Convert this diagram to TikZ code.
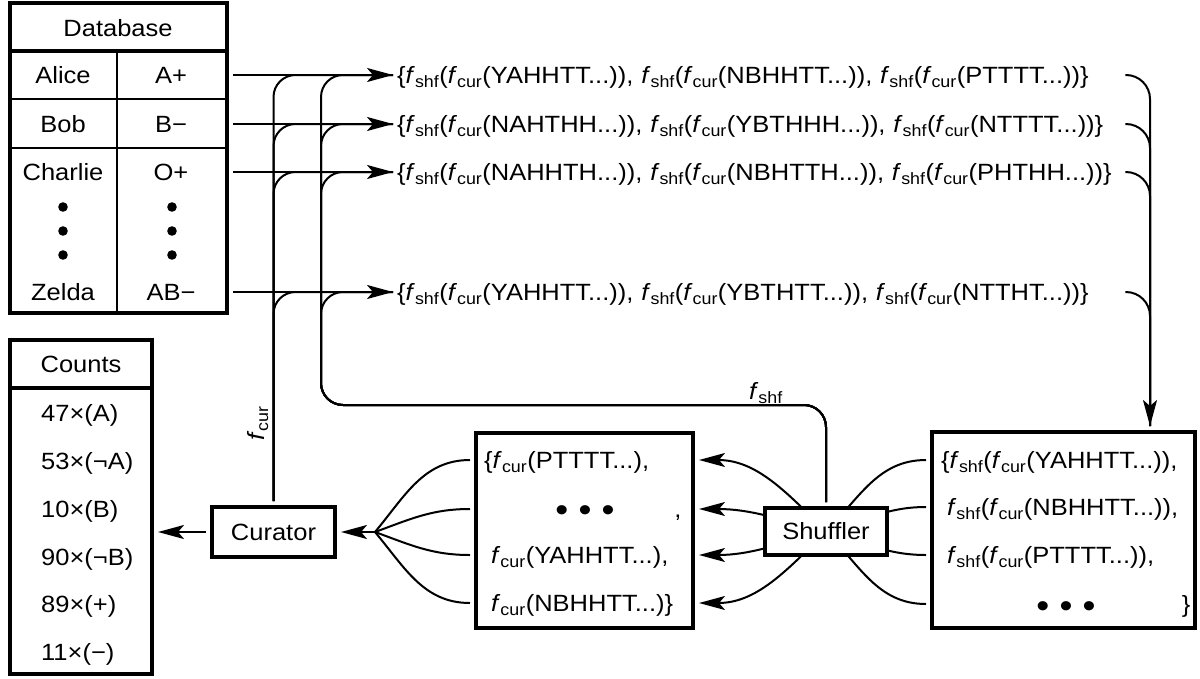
\documentclass[tikz,border=0pt]{standalone}
\usepackage{fontspec}
\setmainfont{Liberation Sans}[FakeStretch=1.085]
\usetikzlibrary{arrows.meta}
\newcommand{\fshf}{\textit{f}\textsubscript{shf}}
\newcommand{\fcur}{\textit{f}\textsubscript{cur}}
\tikzstyle{panel}=[draw=black, line width=4.5pt, inner sep=0pt, outer sep=6pt]
\tikzstyle{entry}=[inner sep=0pt, text height=20pt, text depth=3pt]
\tikzstyle{tuple}=[entry, anchor=west, inner xsep=4pt, text width=724pt, align=left]
\tikzstyle{bigdots}=[inner sep=0pt, font=\fontsize{34}{24}\selectfont]
\tikzstyle{wire}=[line width=2pt]
\tikzstyle{feed}=[wire, -{Stealth[length=26pt, width=14pt, inset=6pt]}]

\begin{document}
\begin{tikzpicture}[x=1pt, y=-1pt, font=\fontsize{23.5}{28}\selectfont]
	\useasboundingbox (0,0) rectangle (1200,678);
	\node[panel, minimum width=217pt, minimum height=310pt] (db) at (118.5,158){};
	\draw[line width=4.5pt] (10,51) -- (227,51);
	\draw[line width=1.3pt] (10,99) -- (227,99) (10,148) -- (227,148) (117,51) -- (117,313);
	\node[entry] (dbt) at (118,28){Database};
	\node[entry] (p1) at (63,75){Alice};
	\node[entry] (p2) at (63,124){Bob};
	\node[entry] (p3) at (63,172){Charlie};
	\node[entry] (p4) at (63,292){Zelda};
	\node[entry] (a1) at (171,75){A+};
	\node[entry] (a2) at (171,124){B−};
	\node[entry] (a3) at (171,172){O+};
	\node[entry] (a4) at (171,292){AB−};
	\fill (63,207) circle (4.8pt) (63,231) circle (4.8pt) (63,255) circle (4.8pt);
	\fill (172,207) circle (4.8pt) (172,231) circle (4.8pt) (172,255) circle (4.8pt);

	\node[tuple] (t1) at (393,75){\mbox{\{\fshf(\fcur(YAHHTT...)), \fshf(\fcur(NBHHTT...)), \fshf(\fcur(PTTTT...))\}}};
	\node[tuple] (t2) at (393,124){\mbox{\{\fshf(\fcur(NAHTHH...)), \fshf(\fcur(YBTHHH...)), \fshf(\fcur(NTTTT...))\}}};
	\node[tuple] (t3) at (393,172){\mbox{\{\fshf(\fcur(NAHHTH...)), \fshf(\fcur(NBHTTH...)), \fshf(\fcur(PHTHH...))\}}};
	\node[tuple] (t4) at (393,292){\mbox{\{\fshf(\fcur(YAHHTT...)), \fshf(\fcur(YBTHTT...)), \fshf(\fcur(NTTHT...))\}}};

	\node[panel, minimum width=142pt, minimum height=334pt] (cnt) at (81,507){};
	\draw[line width=4.5pt] (10,388) -- (152,388);
	\node[entry] (cntt) at (81,364){Counts};
	\node[entry, anchor=west] (c1) at (41,413){47×(A)};
	\node[entry, anchor=west] (c2) at (41,461){53×(¬A)};
	\node[entry, anchor=west] (c3) at (41,509){10×(B)};
	\node[entry, anchor=west] (c4) at (41,557){90×(¬B)};
	\node[entry, anchor=west] (c5) at (41,604){89×(+)};
	\node[entry, anchor=west] (c6) at (41,652){11×(−)};

	\node[panel, minimum width=123pt, minimum height=50pt] (cur) at (273.5,532){Curator};

	\node[panel, minimum width=217pt, minimum height=195pt] (mid) at (584.5,530.5){};
	\node[entry, anchor=west] (m1) at (484,460){\{\fcur(PTTTT...),};
	\node[bigdots] (m2) at (585,514){• • •};
	\node[entry] (m2c) at (678,509){,};
	\node[entry, anchor=west] (m3) at (491,555){\fcur(YAHHTT...),};
	\node[entry, anchor=west] (m4) at (491,603){\fcur(NBHHTT...)\}};

	\node[panel, minimum width=263pt, minimum height=196pt] (out) at (1063.5,530){};
	\node[entry, anchor=west] (r1) at (941,460){\{\fshf(\fcur(YAHHTT...)),};
	\node[entry, anchor=west] (r2) at (947,507){\fshf(\fcur(NBHHTT...)),};
	\node[entry, anchor=west] (r3) at (947,555){\fshf(\fcur(PTTTT...)),};
	\node[bigdots] (r4) at (1066,610){• • •};
	\node[entry] (r4c) at (1186,604){\}};

	\coordinate (shc) at (826,531.5);
	\draw[feed] (shc) to[out=135, in=0] (mid.east |- m1);
	\draw[feed] (shc) to[out=165, in=0] (mid.east |- m2c);
	\draw[feed] (shc) to[out=195, in=0] (mid.east |- m3);
	\draw[feed] (shc) to[out=225, in=0] (mid.east |- m4);
	\draw[wire] (shc) to[out=45, in=180] (out.west |- r1);
	\draw[wire] (shc) to[out=15, in=180] (out.west |- r2);
	\draw[wire] (shc) to[out=-15, in=180] (out.west |- r3);
	\draw[wire] (shc) to[out=-45, in=180] (out.west |- r4c);
	\node[panel, fill=white, minimum width=122pt, minimum height=47pt] (shf) at (shc){Shuffler};

	\coordinate (fan) at (375,532);
	\draw[feed] (fan) -- (cur.east);
	\draw[wire] (fan) to[out=50, in=180] (mid.west |- m1);
	\draw[wire] (fan) to[out=20, in=180] (mid.west |- m2c);
	\draw[wire] (fan) to[out=-20, in=180] (mid.west |- m3);
	\draw[wire] (fan) to[out=-50, in=180] (mid.west |- m4);
	\draw[feed] (cur.west) -- (cnt.east |- cur.west);

	\draw[feed] (db.east |- a1) -- (t1.west);
	\draw[feed] (db.east |- a2) -- (t2.west);
	\draw[feed] (db.east |- a3) -- (t3.west);
	\draw[feed] (db.east |- a4) -- (t4.west);

	\draw[wire, rounded corners=22pt] (cur.north) |- (t1.west);
	\draw[wire, rounded corners=22pt] (cur.north) |- (t2.west);
	\draw[wire, rounded corners=22pt] (cur.north) |- (t3.west);
	\draw[wire, rounded corners=22pt] (cur.north) |- (t4.west);
	\node[entry, rotate=90] (lcur) at (256,423){\fcur};

	\coordinate (sbend) at (321,405);
	\draw[wire, rounded corners=22pt] (shf.north) |- (sbend) |- (t1.west);
	\draw[wire, rounded corners=22pt] (shf.north) |- (sbend) |- (t2.west);
	\draw[wire, rounded corners=22pt] (shf.north) |- (sbend) |- (t3.west);
	\draw[wire, rounded corners=22pt] (shf.north) |- (sbend) |- (t4.west);
	\node[entry] (lshf) at (766,391){\fshf};

	\draw[feed, rounded corners=24pt] (t1.east) -| ([xshift=86.5pt]out.north);
	\draw[wire, rounded corners=24pt] (t2.east) -| ([xshift=86.5pt]out.north);
	\draw[wire, rounded corners=24pt] (t3.east) -| ([xshift=86.5pt]out.north);
	\draw[wire, rounded corners=24pt] (t4.east) -| ([xshift=86.5pt]out.north);
\end{tikzpicture}
\end{document}
